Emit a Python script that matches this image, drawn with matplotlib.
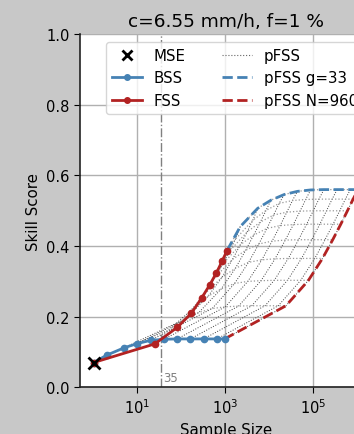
import numpy as np
import matplotlib
matplotlib.use("Agg")
import matplotlib.pyplot as plt
from matplotlib.ticker import NullLocator

# neighbourhood widths g and sample counts N
g_vals = np.array([1, 5, 9, 13, 17, 21, 25, 29, 33])
n_vals = np.array([1, 2, 5, 10, 20, 40, 80, 160, 320, 640, 960])

# pFSS(g, N), rows = g, columns = N
pfss = np.array([
    [0.070, 0.091, 0.112, 0.124, 0.133, 0.136, 0.137, 0.137, 0.137, 0.137, 0.137],
    [0.123, 0.161, 0.194, 0.212, 0.223, 0.228, 0.230, 0.231, 0.231, 0.231, 0.231],
    [0.170, 0.217, 0.258, 0.279, 0.294, 0.300, 0.302, 0.303, 0.303, 0.303, 0.303],
    [0.210, 0.264, 0.312, 0.337, 0.354, 0.361, 0.364, 0.365, 0.365, 0.365, 0.365],
    [0.253, 0.311, 0.362, 0.388, 0.406, 0.414, 0.417, 0.418, 0.418, 0.418, 0.418],
    [0.290, 0.350, 0.404, 0.431, 0.450, 0.458, 0.461, 0.462, 0.462, 0.462, 0.462],
    [0.324, 0.386, 0.440, 0.468, 0.488, 0.496, 0.499, 0.500, 0.500, 0.500, 0.500],
    [0.357, 0.419, 0.473, 0.501, 0.521, 0.529, 0.532, 0.533, 0.533, 0.533, 0.533],
    [0.387, 0.455, 0.507, 0.530, 0.546, 0.555, 0.559, 0.560, 0.560, 0.560, 0.560],
])

mse_x, mse_y = 1, 0.070
crit_size = 35
title = "c=6.55 mm/h, f=1 %"

# sample size = N * g^2
size = n_vals[None, :] * g_vals[:, None] ** 2

blue = "#4682b4"
red = "#b22222"

fig = plt.figure(figsize=(3.54, 4.35), dpi=100, facecolor="#c8c8c8")
ax = fig.add_axes([0.2268, 0.1074, 0.822, 0.8115])

# mesh of pFSS
for j in range(len(n_vals)):
    ax.plot(size[:, j], pfss[:, j], ls=":", color="0.25", lw=0.7, zorder=2)
for i in range(len(g_vals)):
    ax.plot(size[i, :], pfss[i, :], ls=":", color="0.6", lw=0.9, zorder=2)

ax.plot(size[-1, :], pfss[-1, :], ls="--", color=blue, lw=2, zorder=3)
ax.plot(size[:, -1], pfss[:, -1], ls="--", color=red, lw=2, zorder=3)

ax.axvline(crit_size, color="gray", ls="-.", lw=1, zorder=2)
ax.text(crit_size * 1.12, 0.008, str(crit_size), color="gray", fontsize=8.5,
        ha="left", va="bottom")

ax.plot(size[0, :], pfss[0, :], "-o", color=blue, lw=2, ms=4.5, zorder=4)
ax.plot(size[:, 0], pfss[:, 0], "-o", color=red, lw=2, ms=4.5, zorder=5)
ax.plot(mse_x, mse_y, "x", color="k", ms=8, mew=2, zorder=6)

ax.set_xscale("log")
ax.set_ylim(0, 1)
ax.set_xticks([1e1, 1e3, 1e5])
ax.xaxis.set_minor_locator(NullLocator())
ax.grid(True, color="#b0b0b0", lw=1)
ax.set_axisbelow(True)
for s in ["top", "right"]:
    ax.spines[s].set_visible(False)
for s in ["left", "bottom"]:
    ax.spines[s].set_color("#222222")
    ax.spines[s].set_linewidth(1.2)
ax.tick_params(labelsize=10.5, length=4)

ax.set_title(title, fontsize=13.3)
ax.set_xlabel("Sample Size", fontsize=10.8)
ax.set_ylabel("Skill Score", fontsize=10.8)

h = [
    plt.Line2D([], [], ls="", marker="x", color="k", ms=7, mew=2),
    plt.Line2D([], [], ls="-", marker="o", color=blue, lw=2, ms=4),
    plt.Line2D([], [], ls="-", marker="o", color=red, lw=2, ms=4),
    plt.Line2D([], [], ls=":", color="0.4", lw=0.8),
    plt.Line2D([], [], ls="--", color=blue, lw=2),
    plt.Line2D([], [], ls="--", color=red, lw=2),
]
labels = ["MSE", "BSS", "FSS", "pFSS", "pFSS g=33", "pFSS N=960"]
ax.legend(h, labels, loc="upper right", ncol=2, fontsize=10.8,
          columnspacing=2.4)

fig.savefig("out.png", dpi=100, facecolor=fig.get_facecolor())
